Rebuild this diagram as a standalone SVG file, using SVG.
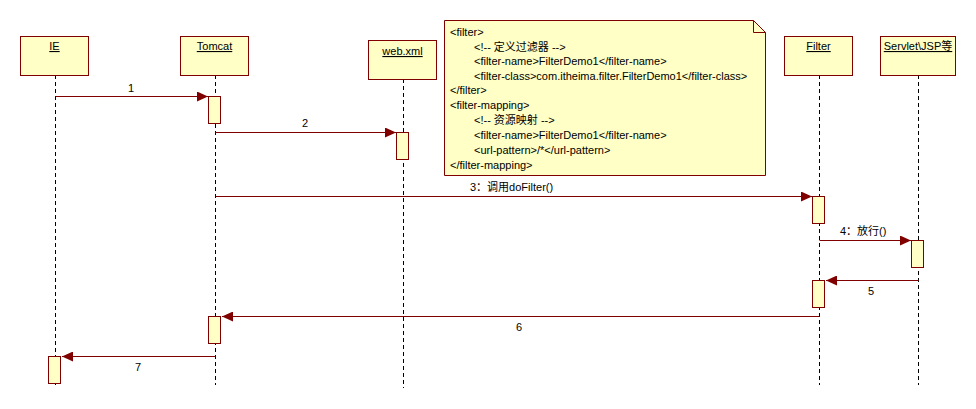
<svg xmlns="http://www.w3.org/2000/svg" width="976" height="409" viewBox="0 0 976 409">
<style>
.box{fill:#FFFFC6;stroke:#800000;stroke-width:1}
.act{fill:#FFFFC6;stroke:#800000;stroke-width:1}
.life{stroke:#000;stroke-width:1;stroke-dasharray:4 3;fill:none}
.msg{stroke:#800000;stroke-width:1;fill:none}
text{font-family:"Liberation Sans","Noto Sans CJK SC",sans-serif;font-size:11px;fill:#000}
.name{text-anchor:middle;text-decoration:underline}
.lbl{text-anchor:middle}
</style>
<defs>
<marker id="ah" markerWidth="12" markerHeight="10" refX="11" refY="5" orient="auto" markerUnits="userSpaceOnUse">
<path d="M0,0 L11,5 L0,10 Z" fill="#800000"/>
</marker>
</defs>
<rect width="976" height="409" fill="#fff"/>
<g id="lifelines">
<line class="life" x1="55.5" y1="75" x2="55.5" y2="385"/>
<line class="life" x1="215.5" y1="75" x2="215.5" y2="385"/>
<line class="life" x1="403.5" y1="79" x2="403.5" y2="388"/>
<line class="life" x1="819.5" y1="75" x2="819.5" y2="385"/>
<line class="life" x1="918.5" y1="75" x2="918.5" y2="385"/>
</g>
<g id="node-ie"><rect class="box" x="20.5" y="36.5" width="68" height="39"/><text class="name" x="54.5" y="50">IE</text></g>
<g id="node-tomcat"><rect class="box" x="180.5" y="36.5" width="68" height="39"/><text class="name" x="214.5" y="50">Tomcat</text></g>
<g id="node-webxml"><rect class="box" x="368.5" y="40.5" width="68" height="39"/><text class="name" x="402.5" y="55">web.xml</text></g>
<g id="node-filter"><rect class="box" x="784.5" y="36.5" width="68" height="39"/><text class="name" x="818.5" y="50">Filter</text></g>
<g id="node-servlet"><rect class="box" x="880.5" y="36.5" width="75" height="39"/><text class="name" x="918" y="50">Servlet\JSP等</text></g>
<g id="note">
<path class="box" d="M444.5,20.5 H753.5 L765.5,32.5 V175.5 H444.5 Z"/>
<path d="M753.5,20.5 V32.5 H765.5" fill="none" stroke="#800000"/>
<text x="450" y="36">&lt;filter&gt;</text>
<text x="474" y="51">&lt;!-- 定义过滤器 --&gt;</text>
<text x="474" y="65">&lt;filter-name&gt;FilterDemo1&lt;/filter-name&gt;</text>
<text x="474" y="80">&lt;filter-class&gt;com.itheima.filter.FilterDemo1&lt;/filter-class&gt;</text>
<text x="450" y="94">&lt;/filter&gt;</text>
<text x="450" y="109">&lt;filter-mapping&gt;</text>
<text x="474" y="124">&lt;!-- 资源映射 --&gt;</text>
<text x="474" y="139">&lt;filter-name&gt;FilterDemo1&lt;/filter-name&gt;</text>
<text x="474" y="154">&lt;url-pattern&gt;/*&lt;/url-pattern&gt;</text>
<text x="450" y="169">&lt;/filter-mapping&gt;</text>
</g>
<g id="activations">
<rect class="act" x="208.5" y="96.5" width="12" height="27"/>
<rect class="act" x="396.5" y="132.5" width="12" height="27"/>
<rect class="act" x="812.5" y="196.5" width="12" height="27"/>
<rect class="act" x="911.5" y="240.5" width="12" height="27"/>
<rect class="act" x="812.5" y="280.5" width="12" height="27"/>
<rect class="act" x="208.5" y="316.5" width="12" height="27"/>
<rect class="act" x="48.5" y="356.5" width="12" height="27"/>
</g>
<g id="connectors">
<line class="msg" x1="55.5" y1="96.5" x2="208" y2="96.5" marker-end="url(#ah)"/>
<line class="msg" x1="215.5" y1="132.5" x2="396" y2="132.5" marker-end="url(#ah)"/>
<line class="msg" x1="215.5" y1="196.5" x2="812" y2="196.5" marker-end="url(#ah)"/>
<line class="msg" x1="819.5" y1="240.5" x2="911" y2="240.5" marker-end="url(#ah)"/>
<line class="msg" x1="918.5" y1="280.5" x2="826" y2="280.5" marker-end="url(#ah)"/>
<line class="msg" x1="819.5" y1="316.5" x2="222" y2="316.5" marker-end="url(#ah)"/>
<line class="msg" x1="215.5" y1="356.5" x2="62" y2="356.5" marker-end="url(#ah)"/>
<text class="lbl" x="131" y="92">1</text>
<text class="lbl" x="305" y="127">2</text>
<text x="470" y="191">3：调用doFilter()</text>
<text x="840" y="235">4：放行()</text>
<text class="lbl" x="871" y="295">5</text>
<text class="lbl" x="519" y="331">6</text>
<text class="lbl" x="138" y="371">7</text>
</g>
</svg>
